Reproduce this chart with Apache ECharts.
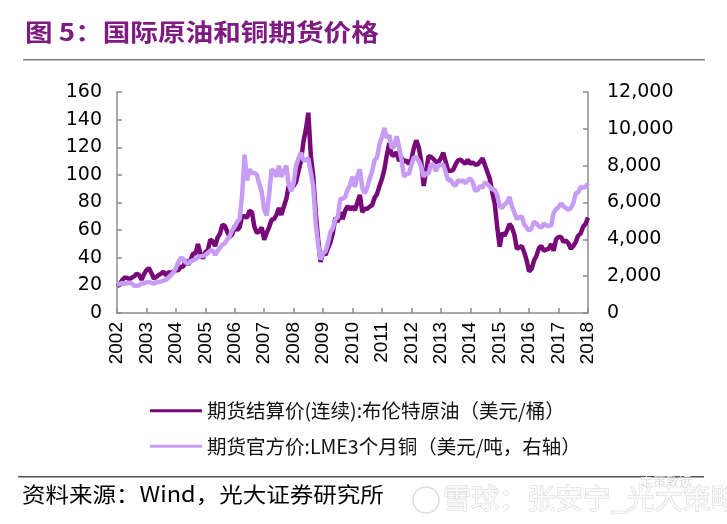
<!DOCTYPE html>
<html><head><meta charset="utf-8">
<script src="https://cdn.jsdelivr.net/npm/echarts@6/dist/echarts.min.js"></script>
<style>html,body{margin:0;padding:0;background:#fff}#c{width:727px;height:524px}</style>
</head><body><div id="c"></div>
<script>
// monthly values, Jan 2002 .. Jan 2018
const startYear = 2002;
const yearTicks = [2002,2003,2004,2005,2006,2007,2008,2009,2010,2011,2012,2013,2014,2015,2016,2017,2018];
const oilName = '期货结算价(连续):布伦特原油（美元/桶）';
const copperName = '期货官方价:LME3个月铜（美元/吨，右轴）';
const oilValues = [
  19.5,20.5,23.5,25.5,25.5,24.5,25.5,26.5,28.5,27.5,24,28,
  31,32.5,29,25,26,27.5,28.5,30,27,29.5,29,30,
  31,31,33.5,33.5,38,35,38.5,43,43,50,43,39.5,
  44,45.5,53,52,48.5,54.5,57.5,64,63,58.5,55,57,
  63,60,62,70,70,69,74,73,62.5,58,59,62,
  53,58,62,67.5,68,71,76,71,77,82.5,92,91.5,
  92,95,103,110,124,133,145,114,99,73,53,37,
  44,42,47,51,58,69,66,73,68,74,77.5,75,
  77,74.5,80,85.5,73,75.5,75.5,77,78,83.5,86,92,
  97,104,114.5,123,114.5,114,116.5,110,112.5,109.5,110.5,108,
  111,119.5,125,120,110,92,102.5,113.5,113,111.5,109.5,109,
  112,116,109.5,103,103,103.5,107.5,110.5,111,109.5,108,111,
  108,109,107.5,107.5,109.5,112,107,102,97,87,79,62,
  48,58,56,59.5,64.5,62,56.5,46.5,47.5,48.5,44,38,
  30,32,38,41.5,47,48.5,45,46,46.5,50,45,53.5,
  55,55,51.5,52.5,50.5,46.5,48.5,51.5,56,57.5,62.5,64.5,
  69
];
const copperValues = [
  1520,1570,1620,1590,1610,1650,1600,1480,1480,1500,1600,1600,
  1670,1690,1640,1590,1660,1680,1720,1770,1800,1930,2060,2200,
  2430,2760,3000,2950,2740,2680,2820,2860,2920,3020,3080,3100,
  3150,3260,3390,3390,3150,3380,3550,3710,3800,4000,4170,4500,
  4700,4950,5100,6400,8600,7200,7800,7600,7600,7500,7000,6600,
  5600,5300,6400,7800,7700,7400,8000,7400,7700,8000,7000,6600,
  7050,8000,8400,8700,8300,8300,8400,7600,6900,4900,3700,2900,
  3250,3350,3800,4400,4600,5100,5200,6200,6200,6300,6700,6950,
  7400,6850,7450,7800,6800,6500,6800,7300,7700,8300,8450,9150,
  9550,10050,9500,9650,8950,9050,9600,9000,8300,7400,7550,7550,
  8050,8450,8450,8250,7950,7400,7600,7550,8100,8050,7700,8000,
  8050,8050,7650,7200,7250,7000,6900,7200,7150,7200,7050,7200,
  7300,7100,6650,6680,6900,6800,7100,7000,6850,6700,6700,6400,
  5800,5700,5900,6000,6300,5800,5450,5100,5200,5250,4800,4630,
  4470,4600,4950,4870,4700,4640,4870,4750,4740,4750,5450,5650,
  5750,5950,5800,5700,5600,5700,5950,6500,6550,6850,6800,6850,
  7050
];
const leftTicks = [0,20,40,60,80,100,120,140,160];
const rightTicks = [0,2000,4000,6000,8000,10000,12000];

const toPairs = vals => vals.map((v,i)=>[startYear + i/12, v]);
const axisColor = '#8c8c8c';
const chart = echarts.init(document.getElementById('c'));
chart.setOption({
  animation:false,
  backgroundColor:'#fff',
  grid:{left:117,right:139,top:92,bottom:211},
  xAxis:{type:'value',min:yearTicks[0],max:yearTicks[yearTicks.length-1],interval:1,
    axisLine:{lineStyle:{color:axisColor,width:1.5}},
    axisTick:{inside:true,length:5,lineStyle:{color:axisColor,width:1.5}},
    splitLine:{show:false},
    axisLabel:{rotate:90,margin:9,fontFamily:'Liberation Sans',fontSize:19,color:'#000',formatter:v=>String(v)}},
  yAxis:[
    {type:'value',min:leftTicks[0],max:leftTicks[leftTicks.length-1],interval:20,
     axisLine:{show:true,lineStyle:{color:axisColor,width:1.5}},
     axisTick:{show:true,inside:true,length:5,lineStyle:{color:axisColor,width:1.5}},
     splitLine:{show:false},
     axisLabel:{margin:15,fontFamily:'DejaVu Sans',fontSize:19,color:'#000'}},
    {type:'value',min:rightTicks[0],max:rightTicks[rightTicks.length-1],interval:2000,
     axisLine:{show:true,lineStyle:{color:axisColor,width:1.5}},
     axisTick:{show:true,inside:true,length:5,lineStyle:{color:axisColor,width:1.5}},
     splitLine:{show:false},
     axisLabel:{margin:19,fontFamily:'DejaVu Sans',fontSize:19,color:'#000',
       formatter:v=>v.toLocaleString('en-US')}}
  ],
  legend:{orient:'vertical',left:145,top:396,itemWidth:52,itemHeight:3,itemGap:16,icon:'rect',
    textStyle:{fontFamily:'Noto Sans CJK SC',fontSize:19.5,color:'#111'},
    data:[oilName,copperName]},
  series:[
    {name:oilName,type:'line',data:toPairs(oilValues),showSymbol:false,symbol:'none',
     lineStyle:{color:'#770a78',width:4.5},itemStyle:{color:'#770a78'}},
    {name:copperName,type:'line',yAxisIndex:1,data:toPairs(copperValues),showSymbol:false,symbol:'none',
     lineStyle:{color:'#c69cf4',width:4.5},itemStyle:{color:'#c69cf4'}}
  ],
  graphic:[
    {type:'text',x:25,y:20,scaleX:1.15,style:{text:'图 5：国际原油和铜期货价格',fill:'#7e1a80',
      font:'bold 24px "Noto Sans CJK SC"'}},
    {type:'rect',shape:{x:23,y:59,width:682,height:1.5},style:{fill:'#808080'}},
    {type:'rect',shape:{x:18,y:476,width:686,height:1.5},style:{fill:'#555'}},
    {type:'text',x:22,y:484,scaleX:1.12,style:{text:'资料来源：Wind，光大证券研究所',fill:'#000',
      font:'21px "Noto Sans CJK SC"'}},
    {type:'text',x:640,y:475,style:{text:'定策致远',fill:'#dcdcdc',font:'13px "Noto Sans CJK SC"'}},
    {type:'circle',shape:{cx:426,cy:500,r:13},style:{fill:'none',stroke:'#dedede',lineWidth:1.5}},
    {type:'text',x:443,y:484,style:{text:'雪球：张安宁_光大策略',fill:'#fafafa',stroke:'#d4d4d4',lineWidth:1,
      font:'28px "Noto Sans CJK SC"'}}
  ]
});
</script></body></html>
